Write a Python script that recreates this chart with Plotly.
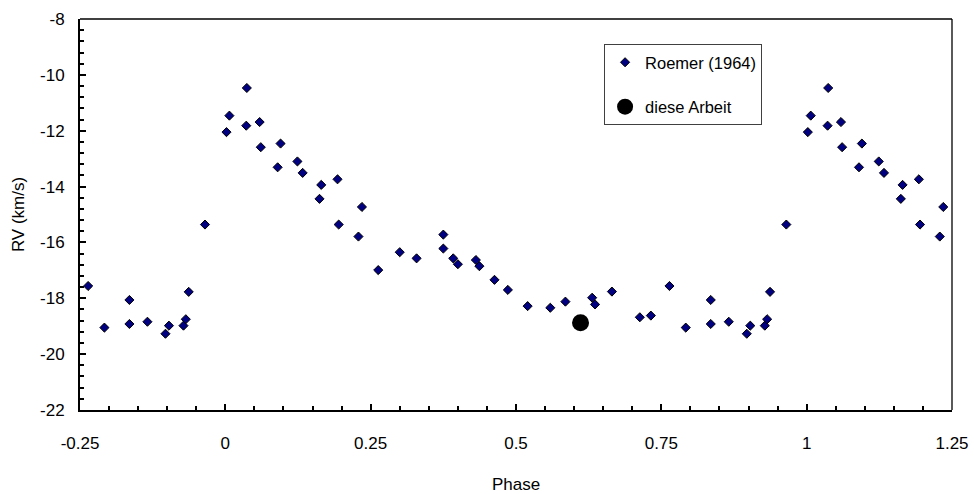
import numpy as np
import plotly.graph_objects as go

# Roemer (1964) radial velocities, phase in [0, 1)
roemer_phase = [0.002, 0.007, 0.037, 0.036, 0.059, 0.061, 0.095, 0.090, 0.124, 0.133,
                0.165, 0.162, 0.193, 0.235, 0.195, 0.229, 0.263, 0.300, 0.329, 0.375,
                0.375, 0.392, 0.400, 0.431, 0.437, 0.463, 0.486, 0.520, 0.559, 0.585,
                0.631, 0.636, 0.665, 0.713, 0.732, 0.764, 0.792, 0.835, 0.835, 0.866,
                0.897, 0.903, 0.928, 0.932, 0.937, 0.965]
roemer_rv = [-12.05, -11.46, -10.47, -11.82, -11.69, -12.59, -12.46, -13.31, -13.10, -13.51,
             -13.94, -14.44, -13.74, -14.73, -15.36, -15.79, -16.99, -16.35, -16.57, -15.72,
             -16.22, -16.57, -16.78, -16.63, -16.85, -17.34, -17.70, -18.28, -18.34, -18.12,
             -17.98, -18.22, -17.76, -18.68, -18.62, -17.56, -19.05, -18.06, -18.92, -18.84,
             -19.27, -18.98, -18.98, -18.75, -17.77, -15.36]

# diese Arbeit
own_phase = [0.611]
own_rv = [-18.88]

x_tickvals = [-0.25, 0, 0.25, 0.5, 0.75, 1, 1.25]
x_ticktext = ["-0.25", "0", "0.25", "0.5", "0.75", "1", "1.25"]
y_tickvals = [-8, -10, -12, -14, -16, -18, -20, -22]
y_ticktext = ["-8", "-10", "-12", "-14", "-16", "-18", "-20", "-22"]

# phase-fold display range -0.25 .. 1.25 (repeat points)
p = np.array(roemer_phase)
v = np.array(roemer_rv)
lo = p >= 0.75
hi = p < 0.25
xs = np.concatenate([p[lo] - 1, p, p[hi] + 1])
ys = np.concatenate([v[lo], v, v[hi]])

FONT = "Liberation Sans, Arial, sans-serif"
FS = 17

fig = go.Figure()
fig.add_trace(go.Scatter(
    x=xs, y=ys, mode="markers", name="Roemer (1964)", legendgroup="a",
    marker=dict(symbol="diamond", size=7, color="#000080",
                line=dict(color="black", width=1)),
))
fig.add_trace(go.Scatter(
    x=own_phase, y=own_rv, mode="markers", name="diese Arbeit", legendgroup="b",
    marker=dict(symbol="circle", size=17, color="black"),
))

axis_common = dict(
    showgrid=False, zeroline=False, showline=True, linecolor="black", linewidth=2,
    ticks="inside", ticklen=6, tickwidth=1.5, tickcolor="black", automargin=False,
    tickfont=dict(family=FONT, size=FS, color="black"),
)

fig.update_xaxes(
    **axis_common, range=[-0.25, 1.25], tickvals=x_tickvals, ticktext=x_ticktext,
    minor=dict(dtick=0.05, ticks="inside", ticklen=4, tickwidth=1.5, tickcolor="black"),
    ticklabelstandoff=17,
    title=dict(text="Phase", font=dict(family=FONT, size=FS, color="black"), standoff=27),
)
fig.update_yaxes(
    **axis_common, range=[-22, -8], tickvals=y_tickvals, ticktext=y_ticktext,
    minor=dict(dtick=0.4, tick0=-8, ticks="inside", ticklen=4, tickwidth=1.5, tickcolor="black"),
    ticklabelstandoff=10,
    title=dict(text="RV (km/s)", font=dict(family=FONT, size=FS, color="black"), standoff=11),
)

# thin top and right frame lines
fig.add_shape(type="line", xref="paper", yref="paper", x0=0, x1=1, y0=1, y1=1,
              line=dict(color="black", width=1.3))
fig.add_shape(type="line", xref="paper", yref="paper", x0=1, x1=1, y0=0, y1=1,
              line=dict(color="black", width=1.3))

fig.update_layout(
    width=974, height=494,
    margin=dict(l=80, r=22, t=19, b=84),
    paper_bgcolor="white", plot_bgcolor="white",
    font=dict(family=FONT, size=FS, color="black"),
    legend=dict(x=0.601, y=0.936, xanchor="left", yanchor="top",
                bgcolor="white", bordercolor="#404040", borderwidth=1,
                tracegroupgap=20, traceorder="grouped",
                font=dict(family=FONT, size=16.5, color="black")),
    showlegend=True,
)

fig.write_html("out.html")
